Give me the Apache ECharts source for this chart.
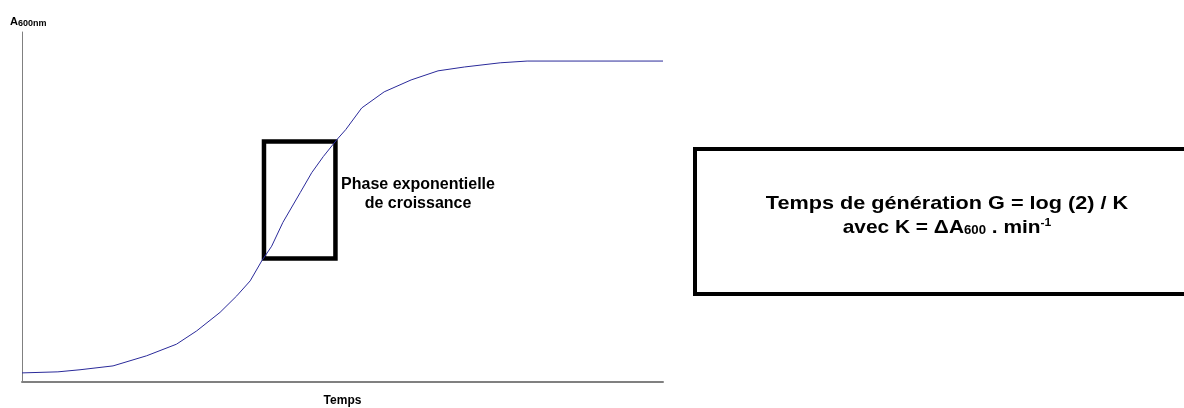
<!DOCTYPE html>
<html>
<head>
<meta charset="utf-8">
<script src="https://cdn.jsdelivr.net/npm/echarts@6/dist/echarts.min.js"></script>
<style>
  html, body { margin: 0; padding: 0; background: #fff; }
  #chart { width: 1184px; height: 408px; }
</style>
</head>
<body>
<div id="chart"></div>
<script>
// growth curve, time (0-100) vs absorbance (0-100, arbitrary)
var times = [0, 5.6, 9.05, 14.2, 19.45, 24.1, 27.25, 30.9, 33.5, 35.6, 37.4, 38.95, 40.7, 43.4, 45.2, 47, 49.1, 50.5, 53, 56.5, 60.7, 64.9, 69, 74.6, 78.8, 100];
var absorb = [2.6, 2.9, 3.5, 4.6, 7.5, 10.8, 14.6, 19.9, 24.6, 28.9, 34.6, 38.8, 45.6, 54.1, 59.8, 64.4, 69.2, 72.1, 78.3, 82.9, 86.3, 88.9, 90.0, 91.2, 91.7, 91.7];
// exponential phase window [t0, t1] x [a0, a1]
var phaseX = [37.75, 48.9];
var phaseY = [35.3, 68.7];

var font = '"Liberation Sans", Arial, sans-serif';
var chart = echarts.init(document.getElementById('chart'), null, { renderer: 'canvas' });

var pts = times.map(function(t, i) { return [t, absorb[i]]; });

chart.setOption({
  animation: false,
  grid: { left: 22, top: 32, right: 521, bottom: 26, outerBoundsMode: 'none', containLabel: false },
  xAxis: {
    type: 'value', min: 0, max: 100,
    name: 'Temps', nameLocation: 'middle', nameGap: 13,
    nameTextStyle: { color: '#000', fontFamily: font, fontWeight: 'bold', fontSize: 12 },
    axisLine: { lineStyle: { color: '#808080', width: 2 } },
    axisTick: { show: false }, axisLabel: { show: false }, splitLine: { show: false }
  },
  yAxis: {
    type: 'value', min: 0, max: 100,
    axisLine: { show: true, lineStyle: { color: '#808080', width: 1 } },
    axisTick: { show: false }, axisLabel: { show: false }, splitLine: { show: false }
  },
  series: [{
    type: 'line',
    data: pts,
    showSymbol: false,
    lineStyle: { color: '#2a2a9a', width: 1 },
    markArea: {
      silent: true,
      itemStyle: { color: 'rgba(0,0,0,0)', borderColor: '#000', borderWidth: 4.5 },
      data: [[{ coord: [phaseX[0], phaseY[0]] }, { coord: [phaseX[1], phaseY[1]] }]]
    }
  }],
  graphic: [
    {
      type: 'text', x: 10, y: 22,
      style: {
        text: '{a|A}{s|600nm}', verticalAlign: 'middle',
        rich: {
          a: { font: 'bold 11px ' + font, fill: '#000' },
          s: { font: 'bold 9px ' + font, fill: '#000', padding: [3, 0, 0, 0] }
        }
      }
    },
    {
      type: 'text', x: 418, y: 194,
      style: {
        text: 'Phase exponentielle\nde croissance', align: 'center', verticalAlign: 'middle',
        font: 'bold 16px ' + font, fill: '#000', lineHeight: 19
      }
    },
    {
      type: 'rect',
      shape: { x: 695, y: 149, width: 600, height: 145 },
      style: { fill: 'none', stroke: '#000', lineWidth: 4 }
    },
    {
      type: 'text', x: 947, y: 203.5, scaleX: 1.14,
      style: {
        text: 'Temps de génération G = log (2) / K', align: 'center', verticalAlign: 'middle',
        font: 'bold 19px ' + font, fill: '#000'
      }
    },
    {
      type: 'text', x: 947, y: 227.5, scaleX: 1.1,
      style: {
        text: '{t|avec K = ΔA}{sub|600}{t| . min}{sup|-1}', align: 'center', verticalAlign: 'middle',
        rich: {
          t: { font: 'bold 19px ' + font, fill: '#000' },
          sub: { font: 'bold 12px ' + font, fill: '#000', padding: [7, 0, 0, 0] },
          sup: { font: 'bold 11px ' + font, fill: '#000', padding: [0, 0, 9, 0] }
        }
      }
    }
  ]
});
</script>
</body>
</html>
